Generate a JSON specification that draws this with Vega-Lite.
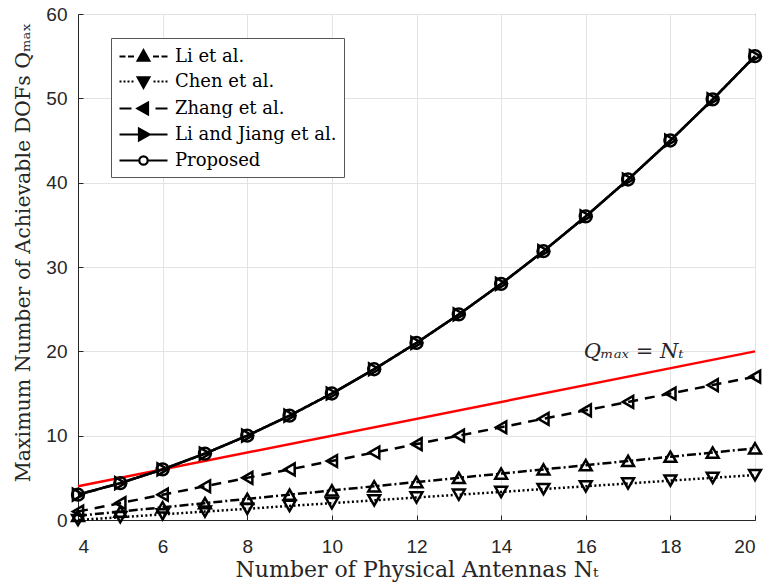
{
  "$schema": "https://vega.github.io/schema/vega-lite/v6.json",
  "width": 677,
  "height": 506,
  "autosize": "none",
  "padding": {"left": 78, "top": 14, "right": 16, "bottom": 65},
  "background": "white",
  "config": {
    "view": {"stroke": "#262626", "strokeWidth": 1},
    "axis": {
      "domainColor": "#262626",
      "tickColor": "#262626",
      "tickSize": -5,
      "gridColor": "#e3e3e3",
      "gridWidth": 1,
      "labelFont": "Liberation Sans",
      "labelFontSize": 19,
      "labelColor": "#262626",
      "titleFont": "DejaVu Serif",
      "titleFontWeight": "normal",
      "titleColor": "#262626"
    },
    "legend": {
      "labelFont": "DejaVu Serif",
      "labelFontSize": 18,
      "labelColor": "black",
      "labelLimit": 400
    }
  },
  "datasets": {
    "schemes": [
      {"Nt": 4, "Q": 0.5, "scheme": "Li et al."},
      {"Nt": 5, "Q": 1, "scheme": "Li et al."},
      {"Nt": 6, "Q": 1.5, "scheme": "Li et al."},
      {"Nt": 7, "Q": 2, "scheme": "Li et al."},
      {"Nt": 8, "Q": 2.5, "scheme": "Li et al."},
      {"Nt": 9, "Q": 3, "scheme": "Li et al."},
      {"Nt": 10, "Q": 3.5, "scheme": "Li et al."},
      {"Nt": 11, "Q": 4, "scheme": "Li et al."},
      {"Nt": 12, "Q": 4.5, "scheme": "Li et al."},
      {"Nt": 13, "Q": 5, "scheme": "Li et al."},
      {"Nt": 14, "Q": 5.5, "scheme": "Li et al."},
      {"Nt": 15, "Q": 6, "scheme": "Li et al."},
      {"Nt": 16, "Q": 6.5, "scheme": "Li et al."},
      {"Nt": 17, "Q": 7, "scheme": "Li et al."},
      {"Nt": 18, "Q": 7.5, "scheme": "Li et al."},
      {"Nt": 19, "Q": 8, "scheme": "Li et al."},
      {"Nt": 20, "Q": 8.5, "scheme": "Li et al."},
      {"Nt": 4, "Q": 0, "scheme": "Chen et al."},
      {"Nt": 5, "Q": 0.33, "scheme": "Chen et al."},
      {"Nt": 6, "Q": 0.67, "scheme": "Chen et al."},
      {"Nt": 7, "Q": 1, "scheme": "Chen et al."},
      {"Nt": 8, "Q": 1.33, "scheme": "Chen et al."},
      {"Nt": 9, "Q": 1.67, "scheme": "Chen et al."},
      {"Nt": 10, "Q": 2, "scheme": "Chen et al."},
      {"Nt": 11, "Q": 2.33, "scheme": "Chen et al."},
      {"Nt": 12, "Q": 2.67, "scheme": "Chen et al."},
      {"Nt": 13, "Q": 3, "scheme": "Chen et al."},
      {"Nt": 14, "Q": 3.33, "scheme": "Chen et al."},
      {"Nt": 15, "Q": 3.67, "scheme": "Chen et al."},
      {"Nt": 16, "Q": 4, "scheme": "Chen et al."},
      {"Nt": 17, "Q": 4.33, "scheme": "Chen et al."},
      {"Nt": 18, "Q": 4.67, "scheme": "Chen et al."},
      {"Nt": 19, "Q": 5, "scheme": "Chen et al."},
      {"Nt": 20, "Q": 5.33, "scheme": "Chen et al."},
      {"Nt": 4, "Q": 1, "scheme": "Zhang et al."},
      {"Nt": 5, "Q": 2, "scheme": "Zhang et al."},
      {"Nt": 6, "Q": 3, "scheme": "Zhang et al."},
      {"Nt": 7, "Q": 4, "scheme": "Zhang et al."},
      {"Nt": 8, "Q": 5, "scheme": "Zhang et al."},
      {"Nt": 9, "Q": 6, "scheme": "Zhang et al."},
      {"Nt": 10, "Q": 7, "scheme": "Zhang et al."},
      {"Nt": 11, "Q": 8, "scheme": "Zhang et al."},
      {"Nt": 12, "Q": 9, "scheme": "Zhang et al."},
      {"Nt": 13, "Q": 10, "scheme": "Zhang et al."},
      {"Nt": 14, "Q": 11, "scheme": "Zhang et al."},
      {"Nt": 15, "Q": 12, "scheme": "Zhang et al."},
      {"Nt": 16, "Q": 13, "scheme": "Zhang et al."},
      {"Nt": 17, "Q": 14, "scheme": "Zhang et al."},
      {"Nt": 18, "Q": 15, "scheme": "Zhang et al."},
      {"Nt": 19, "Q": 16, "scheme": "Zhang et al."},
      {"Nt": 20, "Q": 17, "scheme": "Zhang et al."},
      {"Nt": 4, "Q": 3, "scheme": "Li and Jiang et al."},
      {"Nt": 5, "Q": 4.375, "scheme": "Li and Jiang et al."},
      {"Nt": 6, "Q": 6, "scheme": "Li and Jiang et al."},
      {"Nt": 7, "Q": 7.875, "scheme": "Li and Jiang et al."},
      {"Nt": 8, "Q": 10, "scheme": "Li and Jiang et al."},
      {"Nt": 9, "Q": 12.375, "scheme": "Li and Jiang et al."},
      {"Nt": 10, "Q": 15, "scheme": "Li and Jiang et al."},
      {"Nt": 11, "Q": 17.875, "scheme": "Li and Jiang et al."},
      {"Nt": 12, "Q": 21, "scheme": "Li and Jiang et al."},
      {"Nt": 13, "Q": 24.375, "scheme": "Li and Jiang et al."},
      {"Nt": 14, "Q": 28, "scheme": "Li and Jiang et al."},
      {"Nt": 15, "Q": 31.875, "scheme": "Li and Jiang et al."},
      {"Nt": 16, "Q": 36, "scheme": "Li and Jiang et al."},
      {"Nt": 17, "Q": 40.375, "scheme": "Li and Jiang et al."},
      {"Nt": 18, "Q": 45, "scheme": "Li and Jiang et al."},
      {"Nt": 19, "Q": 49.875, "scheme": "Li and Jiang et al."},
      {"Nt": 20, "Q": 55, "scheme": "Li and Jiang et al."},
      {"Nt": 4, "Q": 3, "scheme": "Proposed"},
      {"Nt": 5, "Q": 4.375, "scheme": "Proposed"},
      {"Nt": 6, "Q": 6, "scheme": "Proposed"},
      {"Nt": 7, "Q": 7.875, "scheme": "Proposed"},
      {"Nt": 8, "Q": 10, "scheme": "Proposed"},
      {"Nt": 9, "Q": 12.375, "scheme": "Proposed"},
      {"Nt": 10, "Q": 15, "scheme": "Proposed"},
      {"Nt": 11, "Q": 17.875, "scheme": "Proposed"},
      {"Nt": 12, "Q": 21, "scheme": "Proposed"},
      {"Nt": 13, "Q": 24.375, "scheme": "Proposed"},
      {"Nt": 14, "Q": 28, "scheme": "Proposed"},
      {"Nt": 15, "Q": 31.875, "scheme": "Proposed"},
      {"Nt": 16, "Q": 36, "scheme": "Proposed"},
      {"Nt": 17, "Q": 40.375, "scheme": "Proposed"},
      {"Nt": 18, "Q": 45, "scheme": "Proposed"},
      {"Nt": 19, "Q": 49.875, "scheme": "Proposed"},
      {"Nt": 20, "Q": 55, "scheme": "Proposed"}
    ],
    "bound": [
      {"Nt": 4, "Q": 4},
      {"Nt": 20, "Q": 20}
    ],
    "note": [
      {"label": "Qₘₐₓ = Nₜ"}
    ]
  },
  "resolve": {"scale": {"shape": "independent"}, "legend": {"shape": "independent"}},
  "layer": [
    {
      "data": {"name": "bound"},
      "mark": {"type": "line", "color": "#ff0000", "strokeWidth": 2.4},
      "encoding": {
        "x": {"field": "Nt", "type": "quantitative", "scale": {"domain": [4, 20], "nice": false},
              "axis": {"values": [4, 6, 8, 10, 12, 14, 16, 18, 20], "title": "Number of Physical Antennas Nₜ", "titleFontSize": 22, "labelPadding": 22, "titlePadding": 3}},
        "y": {"field": "Q", "type": "quantitative", "scale": {"domain": [0, 60], "nice": false},
              "axis": {"values": [0, 10, 20, 30, 40, 50, 60], "title": "Maximum Number of Achievable DOFs Qₘₐₓ", "titleFontSize": 20.5, "titleY": 238, "labelPadding": 16, "titlePadding": 12}}
      }
    },
    {
      "data": {"name": "schemes"},
      "mark": {"type": "line", "color": "black", "strokeWidth": 2.5},
      "encoding": {
        "x": {"field": "Nt", "type": "quantitative"},
        "y": {"field": "Q", "type": "quantitative"},
        "strokeDash": {"field": "scheme", "type": "nominal", "legend": null,
          "scale": {"domain": ["Proposed", "Li and Jiang et al.", "Zhang et al.", "Chen et al.", "Li et al."],
                    "range": [[1, 0], [1, 0], [10, 7], [2, 2.5], [9, 3, 2, 3]]}}
      }
    },
    {
      "data": {"name": "schemes"},
      "mark": {"type": "point", "filled": false, "color": "black", "strokeWidth": 2.5, "size": 140, "opacity": 1},
      "encoding": {
        "x": {"field": "Nt", "type": "quantitative"},
        "y": {"field": "Q", "type": "quantitative"},
        "shape": {"field": "scheme", "type": "nominal", "legend": null,
          "scale": {"domain": ["Li et al.", "Chen et al.", "Zhang et al.", "Li and Jiang et al.", "Proposed"],
                    "range": ["triangle-up", "triangle-down", "triangle-left", "triangle-right", "circle"]}}
      }
    },
    {
      "data": {"name": "schemes"},
      "mark": {"type": "point", "filled": false, "color": "black", "strokeWidth": 2.2, "opacity": 0},
      "encoding": {
        "x": {"field": "Nt", "type": "quantitative"},
        "y": {"field": "Q", "type": "quantitative"},
        "shape": {"field": "scheme", "type": "nominal",
          "scale": {"domain": ["Li et al.", "Chen et al.", "Zhang et al.", "Li and Jiang et al.", "Proposed"],
                    "range": [
                      "M-1,0H-0.4M-0.15,0H0.45M1.4,-0.62L1.98,0.42L0.82,0.42ZM1.4,-0.27L1.69,0.25L1.11,0.25ZM1.4,-0.03L1.49,0.13L1.31,0.13ZM2.35,0H2.95M3.2,0H3.8",
                      "M-1,0H-0.8M-0.6,0H-0.4M-0.2,0H0M0.2,0H0.4M1.4,0.62L1.98,-0.42L0.82,-0.42ZM1.4,0.27L1.69,-0.25L1.11,-0.25ZM1.4,0.03L1.49,-0.13L1.31,-0.13ZM2.4,0H2.6M2.8,0H3M3.2,0H3.4M3.6,0H3.8",
                      "M-1,0H0.2M0.8,0L1.85,-0.58L1.85,0.58ZM1.15,0L1.675,-0.29L1.675,0.29ZM1.4,0L1.55,-0.09L1.55,0.09ZM2.6,0H3.8",
                      "M-1,0H3.8M2.0,0L0.95,-0.58L0.95,0.58ZM1.65,0L1.125,-0.29L1.125,0.29ZM1.41,0L1.26,-0.09L1.26,0.09Z",
                      "M-1,0H0.98M1.82,0H3.8M1.82,0A0.42,0.42 0 1,1 0.98,0A0.42,0.42 0 1,1 1.82,0Z"
                    ]},
          "legend": {
            "title": null,
            "orient": "none",
            "legendX": 33,
            "legendY": 24,
            "padding": 7,
            "fillColor": "white",
            "strokeColor": "#555555",
            "symbolSize": 400,
            "symbolStrokeWidth": 2.2,
            "symbolStrokeColor": "black",
            "symbolOpacity": 1,
            "rowPadding": 4,
            "labelOffset": 34
          }
        }
      }
    },
    {
      "data": {"name": "note"},
      "mark": {"type": "text", "font": "DejaVu Serif", "fontSize": 21, "fontStyle": "italic", "align": "left", "baseline": "alphabetic", "color": "#262626"},
      "encoding": {
        "text": {"field": "label"},
        "x": {"datum": 15.95},
        "y": {"datum": 19.2}
      }
    }
  ]
}
